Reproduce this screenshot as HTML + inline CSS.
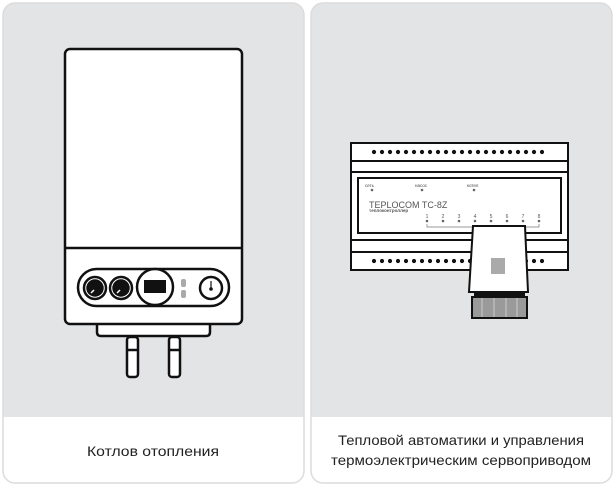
<!DOCTYPE html>
<html><head><meta charset="utf-8"><style>
html,body{margin:0;padding:0;background:#fff;width:615px;height:489px;overflow:hidden}
</style></head><body>
<svg width="615" height="489" viewBox="0 0 615 489" xmlns="http://www.w3.org/2000/svg" font-family="Liberation Sans, DejaVu Sans, sans-serif">
<defs>
<clipPath id="cl"><rect x="3" y="3" width="301" height="480" rx="12"/></clipPath>
<clipPath id="cr"><rect x="311" y="3" width="301" height="480" rx="12"/></clipPath>
<circle id="d" r="2.1" fill="#111"/>
</defs>
<g clip-path="url(#cl)"><rect x="3" y="3" width="301" height="480" fill="#fff"/><rect x="3" y="3" width="301" height="414" fill="#e3e4e5"/></g>
<rect x="3" y="3" width="301" height="480" rx="12" fill="none" stroke="#dcdcdc" stroke-width="1.5"/>
<g clip-path="url(#cr)"><rect x="311" y="3" width="301" height="480" fill="#fff"/><rect x="311" y="3" width="301" height="414" fill="#e3e4e5"/></g>
<rect x="311" y="3" width="301" height="480" rx="12" fill="none" stroke="#dcdcdc" stroke-width="1.5"/>

<!-- boiler -->
<g stroke="#111" stroke-width="2.5" fill="#fff">
<rect x="127" y="337" width="11" height="40" rx="3"/>
<rect x="169" y="337" width="11" height="40" rx="3"/>
<line x1="127" y1="350" x2="138" y2="350"/><line x1="169" y1="350" x2="180" y2="350"/>
<path d="M97 318 V332 Q97 336 101 336 H206 Q210 336 210 332 V318"/>
<rect x="65" y="49" width="177" height="275" rx="5"/>
<line x1="65" y1="248" x2="242" y2="248"/>
<rect x="78" y="269" width="151" height="37" rx="18.5"/>
<circle cx="95" cy="288" r="11"/><circle cx="95" cy="288" r="7.5" fill="#111"/>
<circle cx="121" cy="288" r="11"/><circle cx="121" cy="288" r="7.5" fill="#111"/>
<circle cx="155" cy="287" r="18"/>
<circle cx="211" cy="288" r="11"/>
</g>
<line x1="91" y1="293" x2="94" y2="290" stroke="#fff" stroke-width="1.5"/>
<line x1="117" y1="293" x2="120" y2="290" stroke="#fff" stroke-width="1.5"/>
<rect x="144" y="280" width="22" height="13" fill="#111"/>
<rect x="181" y="279" width="5" height="8" rx="2" fill="#aaa"/>
<rect x="181" y="290" width="5" height="8" rx="2" fill="#aaa"/>
<line x1="211" y1="281" x2="211" y2="288" stroke="#111" stroke-width="1.2"/><circle cx="211" cy="289" r="1.8" fill="#111"/>
<text x="153" y="456" font-size="14" text-anchor="middle" fill="#222" textLength="132" lengthAdjust="spacingAndGlyphs">Котлов отопления</text>

<!-- controller -->
<g stroke="#111" stroke-width="2" fill="#fff">
<rect x="351" y="143" width="217" height="127"/>
<line x1="351" y1="161" x2="568" y2="161"/><line x1="351" y1="172" x2="568" y2="172"/>
<line x1="351" y1="240" x2="568" y2="240"/><line x1="351" y1="252" x2="568" y2="252"/>
<rect x="358" y="178" width="203" height="55"/>
</g>
<g>
<use href="#d" x="374" y="152"/><use href="#d" x="382" y="152"/><use href="#d" x="390" y="152"/><use href="#d" x="398" y="152"/><use href="#d" x="406" y="152"/><use href="#d" x="414" y="152"/><use href="#d" x="422" y="152"/><use href="#d" x="430" y="152"/><use href="#d" x="438" y="152"/><use href="#d" x="446" y="152"/><use href="#d" x="454" y="152"/><use href="#d" x="462" y="152"/><use href="#d" x="470" y="152"/><use href="#d" x="478" y="152"/><use href="#d" x="486" y="152"/><use href="#d" x="494" y="152"/><use href="#d" x="502" y="152"/><use href="#d" x="510" y="152"/><use href="#d" x="518" y="152"/><use href="#d" x="526" y="152"/><use href="#d" x="534" y="152"/><use href="#d" x="542" y="152"/>
<use href="#d" x="374" y="261"/><use href="#d" x="382" y="261"/><use href="#d" x="390" y="261"/><use href="#d" x="398" y="261"/><use href="#d" x="406" y="261"/><use href="#d" x="414" y="261"/><use href="#d" x="422" y="261"/><use href="#d" x="430" y="261"/><use href="#d" x="438" y="261"/><use href="#d" x="446" y="261"/><use href="#d" x="454" y="261"/><use href="#d" x="462" y="261"/><use href="#d" x="470" y="261"/><use href="#d" x="526" y="261"/><use href="#d" x="534" y="261"/><use href="#d" x="542" y="261"/>
</g>
<g font-size="4.5" fill="#444"><text x="365" y="187">сеть</text><text x="415" y="187">насос</text><text x="467" y="187">котел</text></g>
<g fill="#666"><circle cx="372" cy="190" r="1.3"/><circle cx="422" cy="190" r="1.3"/><circle cx="474" cy="190" r="1.3"/></g>
<text x="369" y="208" font-size="9" fill="#555">TEPLOCOM TC-8Z</text>
<text x="369" y="212" font-size="4.5" fill="#555" font-weight="bold">теплоконтроллер</text>
<g font-size="5" fill="#555" text-anchor="middle">
<text x="427" y="218">1</text><text x="443" y="218">2</text><text x="459" y="218">3</text><text x="475" y="218">4</text><text x="491" y="218">5</text><text x="507" y="218">6</text><text x="523" y="218">7</text><text x="539" y="218">8</text></g>
<g fill="#666"><circle cx="427" cy="221" r="1.3"/><circle cx="443" cy="221" r="1.3"/><circle cx="459" cy="221" r="1.3"/><circle cx="475" cy="221" r="1.3"/><circle cx="491" cy="221" r="1.3"/><circle cx="507" cy="221" r="1.3"/><circle cx="523" cy="221" r="1.3"/><circle cx="539" cy="221" r="1.3"/></g>
<path d="M427 224 V227 H539 V224" fill="none" stroke="#777" stroke-width="0.7"/>
<path d="M473 226 H525 L528 292 H469 Z" fill="#fff" stroke="#111" stroke-width="2"/>
<rect x="491" y="258" width="14" height="16" fill="#aaa"/>
<rect x="474" y="292" width="51" height="6" fill="#111"/>
<rect x="472" y="297" width="55" height="21" fill="#9a9a9a" stroke="#111" stroke-width="2"/>
<g stroke="#ccc" stroke-width="1"><line x1="482" y1="298" x2="482" y2="317"/><line x1="494" y1="298" x2="494" y2="317"/><line x1="506" y1="298" x2="506" y2="317"/><line x1="517" y1="298" x2="517" y2="317"/></g>
<text x="461" y="445" font-size="14" text-anchor="middle" fill="#222" textLength="246" lengthAdjust="spacingAndGlyphs">Тепловой автоматики и управления</text>
<text x="461" y="465" font-size="14" text-anchor="middle" fill="#222" textLength="260" lengthAdjust="spacingAndGlyphs">термоэлектрическим сервоприводом</text>
</svg>
</body></html>
